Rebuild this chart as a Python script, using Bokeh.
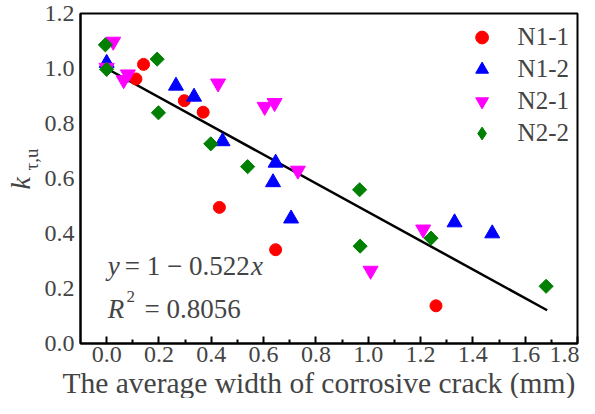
import math
from bokeh.plotting import figure
from bokeh.models import Range1d, FixedTicker, PrintfTickFormatter, Label, Legend, LegendItem, Title
from bokeh.embed import file_html
from bokeh.resources import INLINE

# ---- data ----
n11_x = [0.112, 0.141, 0.297, 0.369, 0.431, 0.646, 1.259]
n11_y = [0.962, 1.015, 0.883, 0.841, 0.495, 0.341, 0.137]

n12_x = [0.0, 0.265, 0.334, 0.443, 0.646, 0.636, 0.705, 1.330, 1.474]
n12_y = [1.020, 0.937, 0.897, 0.735, 0.657, 0.586, 0.454, 0.440, 0.400]

n21_x = [0.025, 0.0, 0.065, 0.081, 0.426, 0.604, 0.642, 0.731, 1.210, 1.009]
n21_y = [1.098, 1.003, 0.958, 0.979, 0.946, 0.861, 0.875, 0.629, 0.415, 0.265]

n22_x = [-0.005, 0.0, 0.193, 0.198, 0.398, 0.539, 0.967, 0.969, 1.240, 1.680]
n22_y = [1.086, 0.997, 1.034, 0.839, 0.726, 0.643, 0.559, 0.354, 0.383, 0.208]

fit_intercept = 1.0
fit_slope = -0.522
fit_x = [0.0, 1.684]
fit_y = [fit_intercept + fit_slope * v for v in fit_x]

x_ticks = [0.0, 0.2, 0.4, 0.6, 0.8, 1.0, 1.2, 1.4, 1.6, 1.8]
x_minor = [0.1, 0.3, 0.5, 0.7, 0.9, 1.1, 1.3, 1.5, 1.7]
y_ticks = [0.0, 0.2, 0.4, 0.6, 0.8, 1.0, 1.2]

x_title = "The average width of corrosive crack (mm)"
series_names = ["N1-1", "N1-2", "N2-1", "N2-2"]

FONT = "Liberation Serif"

p = figure(width=579, height=398, output_backend="svg", toolbar_location=None,
           x_range=Range1d(-0.1, 1.8), y_range=Range1d(0.0, 1.2),
           min_border_left=80, min_border_right=2, min_border_top=13, min_border_bottom=10)

p.xgrid.visible = False
p.ygrid.visible = False
p.outline_line_color = "black"
p.outline_line_width = 2
p.background_fill_color = "white"
p.border_fill_color = "white"

xa = p.xaxis[0]
xa.ticker = FixedTicker(ticks=x_ticks, minor_ticks=x_minor)
xa.formatter = PrintfTickFormatter(format="%.1f")
xa.major_label_text_font = FONT
xa.major_label_text_font_size = "24px"
xa.major_label_standoff = 3
xa.major_tick_in = 7
xa.major_tick_out = 0
xa.minor_tick_in = 4
xa.minor_tick_out = 0
xa.axis_line_width = 2
xa.major_tick_line_width = 2
xa.minor_tick_line_width = 2

ya = p.yaxis[0]
ya.ticker = FixedTicker(ticks=y_ticks, minor_ticks=[])
ya.formatter = PrintfTickFormatter(format="%.1f")
ya.major_label_text_font = FONT
ya.major_label_text_font_size = "24px"
ya.major_label_standoff = 6
ya.major_tick_in = 0
ya.major_tick_out = 0
ya.minor_tick_in = 0
ya.minor_tick_out = 0
ya.axis_line_width = 2

# axis titles as side-panel titles (k with subscript tau,u)
p.add_layout(Title(text="τ,u", text_font=FONT, text_font_size="19px", text_font_style="normal",
                   align="left", offset=173, standoff=0), "left")
p.add_layout(Title(text="k", text_font=FONT, text_font_size="28px", text_font_style="italic",
                   align="left", offset=154, standoff=-34), "left")
p.add_layout(Title(text=x_title, text_font=FONT, text_font_size="29.5px", text_font_style="normal",
                   align="left", offset=-18, standoff=0), "below")

p.line(fit_x, fit_y, line_color="black", line_width=2.5)

r1 = p.scatter(n11_x, n11_y, marker="circle", size=12, fill_color="#FF0000", line_color="#FF0000")
r2 = p.scatter(n12_x, n12_y, marker="triangle", size=15, fill_color="#0000FF", line_color="#0000FF")
r3 = p.scatter(n21_x, n21_y, marker="inverted_triangle", size=15, fill_color="#FF00FF", line_color="#FF00FF")
r4 = p.scatter(n22_x, n22_y, marker="square", angle=math.pi / 4, size=10, fill_color="#008000", line_color="#008000")
r4_leg = p.scatter(n22_x, n22_y, marker="diamond", size=18, fill_color="#008000", line_color="#008000")
r4_leg.visible = False

legend = Legend(items=[LegendItem(label=n, renderers=[r]) for n, r in zip(series_names, [r1, r2, r3, r4_leg])],
                location="top_right")
legend.label_text_font = FONT
legend.label_text_font_size = "25px"
legend.border_line_alpha = 0
legend.background_fill_alpha = 0
legend.margin = 2
legend.padding = 6
legend.spacing = 0
legend.glyph_width = 32
legend.glyph_height = 32
legend.label_height = 32
legend.label_standoff = 20
p.add_layout(legend)

EQ = "27px"
def eq_label(x, y, text, size=EQ, style="normal"):
    p.add_layout(Label(x=x, y=y, text=text, text_font=FONT, text_font_style=style,
                       text_font_size=size, text_baseline="alphabetic"))

eq_label(0.004, 0.283, "y", style="italic")
eq_label(0.069, 0.283, "= 1 − 0.522")
eq_label(0.552, 0.283, "x", style="italic")
eq_label(0.004, 0.127, "R", style="italic")
eq_label(0.076, 0.171, "2", size="17px")
eq_label(0.145, 0.127, "= 0.8056")

open("out.html", "w").write(file_html(p, INLINE))
